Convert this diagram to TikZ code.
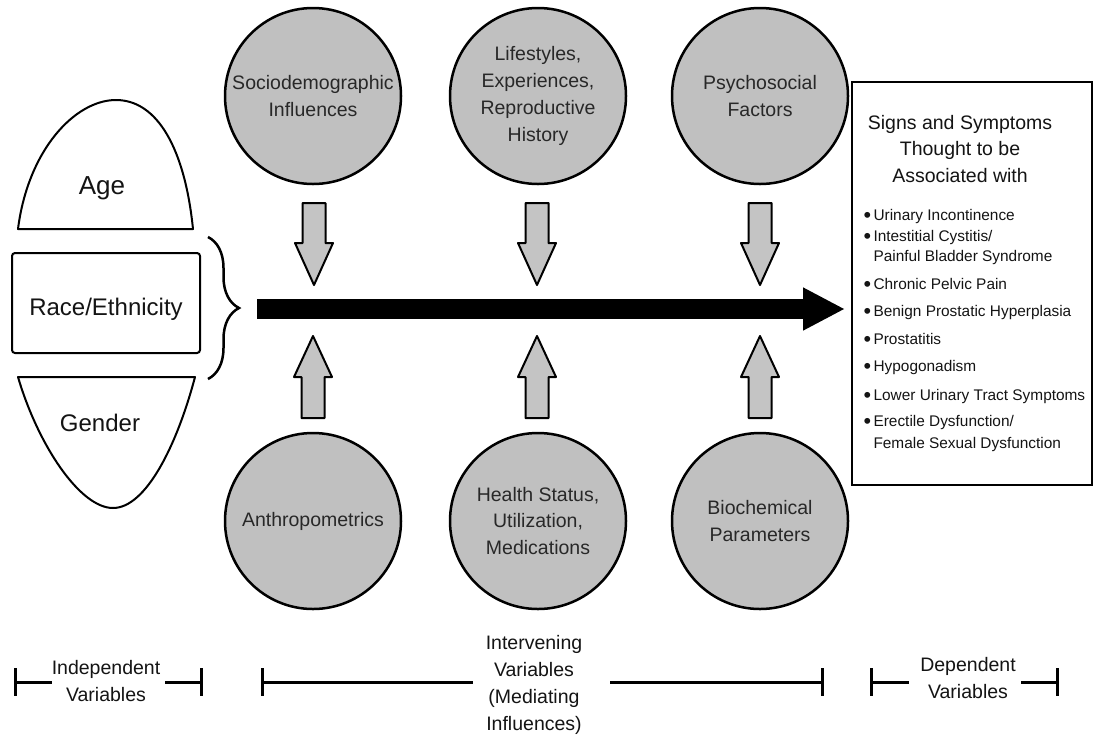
\documentclass[tikz,border=0pt]{standalone}
\usepackage{fontspec}
\setmainfont{Liberation Sans}
\usetikzlibrary{arrows.meta,decorations.pathreplacing,calc}
\definecolor{circfill}{RGB}{192,192,192}
\definecolor{circtext}{RGB}{40,40,40}
\definecolor{arrfill}{RGB}{196,196,196}
\definecolor{ink}{RGB}{20,20,20}
\newcommand{\bul}{\raisebox{-1.3pt}{\scalebox{1.4}{\textbullet}}\hspace{2.5pt}}
\begin{document}
\begin{tikzpicture}[x=1pt,y=-1pt,
  every node/.style={inner sep=0pt,outer sep=0pt,text=ink},
  factor/.style={circle,draw=black,line width=2.5pt,fill=circfill,minimum size=176pt,align=center,text=circtext,font=\fontsize{19.5}{26.7}\selectfont},
  ivshape/.style={draw=black,line width=2pt,fill=white,line join=round},
  ivtext/.style={font=\fontsize{24}{28}\selectfont},
  blk/.style={draw=black,line width=2pt,fill=arrfill,line join=round},
  mainarr/.style={draw=black,line width=20pt,-{Triangle[length=42pt 0 0,width=40pt 0 0]}},
  boxtitle/.style={align=center,font=\fontsize{19.5}{26.5}\selectfont},
  bulletitem/.style={anchor=west,font=\fontsize{15.4}{20}\selectfont,text height=11pt,text depth=3.5pt},
  scaletext/.style={align=center,font=\fontsize{19.5}{27}\selectfont},
  barline/.style={draw=black,line width=3pt},
  blockdown/.pic={\path[blk] (-11.5,0) -- (11.5,0) -- (11.5,40) -- (19,40) -- (0,82) -- (-19,40) -- (-11.5,40) -- cycle;},
  blockup/.pic={\path[blk] (-11.5,0) -- (11.5,0) -- (11.5,-41) -- (19,-41) -- (0,-82) -- (-19,-41) -- (-11.5,-41) -- cycle;}
]
\useasboundingbox[fill=white] (0,0) rectangle (1094,740);

% independent variables
\path[ivshape] (18,229) .. controls (28,150) and (75,100) .. (116,100) .. controls (158,100) and (185,150) .. (193,229) -- cycle;
\node[font=\fontsize{26}{30}\selectfont] (age) at (102,188) {Age};
\node[ivshape,rounded corners=3pt,minimum width=188pt,minimum height=100pt,ivtext,text height=30pt,text depth=5pt] (race) at (106,303) {Race/Ethnicity};
\path[ivshape] (18,377) -- (195,377) .. controls (177,445) and (146,508) .. (113,508) .. controls (80,508) and (38,445) .. (18,377) -- cycle;
\node[ivtext] (gender) at (100,423) {Gender};

% brace
\draw[line width=2.5pt,decorate,decoration={brace,amplitude=31pt}] (208,237) -- (208,379);
\coordinate (bracetip) at (240,309);

% circles
\node[factor] (t1) at (313,96) {Sociodemographic\\Influences};
\node[factor] (t2) at (538,96) {Lifestyles,\\Experiences,\\Reproductive\\History};
\node[factor] (t3) at (760,96) {Psychosocial\\Factors};
\node[factor] (b1) at (313,521) {Anthropometrics};
\node[factor] (b2) at (538,521) {Health Status,\\Utilization,\\Medications};
\node[factor] (b3) at (760,521) {Biochemical\\Parameters};

% block arrows
\pic at ($(t1.south)+(1,19)$) {blockdown};
\pic at ($(t2.south)+(-1,19)$) {blockdown};
\pic at ($(t3.south)+(0,19)$) {blockdown};
\pic at ($(b1.north)+(0,-15)$) {blockup};
\pic at ($(b2.north)+(-1,-15)$) {blockup};
\pic at ($(b3.north)+(0,-15)$) {blockup};

% dependent box
\node[draw=black,line width=2pt,fill=white,minimum width=240pt,minimum height=403pt,anchor=north west] (box) at (852,82) {};
\node[boxtitle] (title) at (960,149) {Signs and Symptoms\\Thought to be\\Associated with};
\node[bulletitem] (i1) at (863.5,217) {\bul Urinary Incontinence};
\node[bulletitem] (i2) at (863.5,238) {\bul Intestitial Cystitis/};
\node[bulletitem] (i2b) at (873.5,258) {Painful Bladder Syndrome};
\node[bulletitem] (i3) at (863.5,286) {\bul Chronic Pelvic Pain};
\node[bulletitem] (i4) at (863.5,313) {\bul Benign Prostatic Hyperplasia};
\node[bulletitem] (i5) at (863.5,341) {\bul Prostatitis};
\node[bulletitem] (i6) at (863.5,368) {\bul Hypogonadism};
\node[bulletitem] (i7) at (863.5,397) {\bul Lower Urinary Tract Symptoms};
\node[bulletitem] (i8) at (863.5,423) {\bul Erectile Dysfunction/};
\node[bulletitem] (i8b) at (873.5,445) {Female Sexual Dysfunction};

% main arrow
\draw[mainarr,shorten <=17pt,shorten >=7pt] (bracetip) -- (box.west |- bracetip);

% bottom scale
\node[scaletext] (indep) at (106,681) {Independent\\Variables};
\node[scaletext] (interv) at (534,685) {Intervening\\Variables\\(Mediating\\Influences)};
\node[scaletext] (dep) at (968,678) {Dependent\\Variables};
\draw[barline] (15,668) -- (15,696) (15,682) -- (52,682) (165,682) -- (201,682) (201,668) -- (201,696);
\draw[barline] (262,668) -- (262,696) (262,682) -- (473,682) (610,682) -- (822,682) (822,668) -- (822,696);
\draw[barline] (871,668) -- (871,696) (871,682) -- (909,682) (1021,682) -- (1057,682) (1057,668) -- (1057,696);
\end{tikzpicture}
\end{document}
